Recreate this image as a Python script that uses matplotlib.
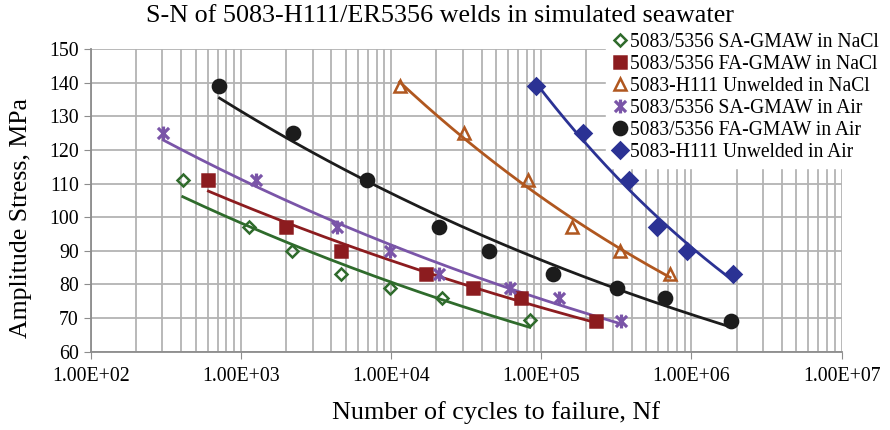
import numpy as np
import matplotlib
matplotlib.use("Agg")
import matplotlib.pyplot as plt
from matplotlib.path import Path

plt.rcParams['font.family'] = ['Liberation Serif', 'DejaVu Serif']

# cycles to failure / stress amplitude (MPa) for each series
sa_nacl_n = [410, 1130, 2180, 4620, 9840, 21900, 83800]
sa_nacl_s = [111, 97, 90, 83, 79, 76, 69.5]

fa_nacl_n = [608, 2010, 4640, 17200, 35100, 72900, 233000]
fa_nacl_s = [111, 97, 90, 83, 79, 76, 69]

unw_nacl_n = [11400, 30500, 82000, 161000, 334000, 720000]
unw_nacl_s = [139, 125, 111, 97, 90, 83]

sa_air_n = [305, 1257, 4390, 9840, 20800, 61700, 131000, 338000]
sa_air_s = [125, 111, 97, 90, 83, 79, 76, 69]

fa_air_n = [720, 2234, 6890, 20900, 44900, 120000, 318000, 667000, 1830000]
fa_air_s = [139, 125, 111, 97, 90, 83, 79, 76, 69]

unw_air_n = [91800, 189000, 385000, 586000, 929000, 1900000]
unw_air_s = [139, 125, 111, 97, 90, 83]

labels = ['5083/5356 SA-GMAW in NaCl', '5083/5356 FA-GMAW in NaCl',
          '5083-H111 Unwelded in NaCl', '5083/5356 SA-GMAW in Air',
          '5083/5356 FA-GMAW in Air', '5083-H111 Unwelded in Air']
xtick_labels = ['1.00E+02', '1.00E+03', '1.00E+04', '1.00E+05', '1.00E+06', '1.00E+07']

# asterisk-like marker: an X with a vertical stroke
star_path = Path([(-1, -1), (1, 1), (-1, 1), (1, -1), (0, -1.25), (0, 1.25)],
                 [Path.MOVETO, Path.LINETO, Path.MOVETO, Path.LINETO, Path.MOVETO, Path.LINETO])

series = [
    (sa_nacl_n, sa_nacl_s, '#2f6b2c', 'D', 'none', 6.5, 1.8),
    (fa_nacl_n, fa_nacl_s, '#8c1c1f', 's', '#8c1c1f', 9, 1.8),
    (unw_nacl_n, unw_nacl_s, '#b0571f', '^', 'none', 9, 1.8),
    (sa_air_n, sa_air_s, '#7a55a8', star_path, 'none', 10, 2.3),
    (fa_air_n, fa_air_s, '#1c1c1c', 'o', '#1c1c1c', 9.5, 1.8),
    (unw_air_n, unw_air_s, '#2b3294', 'D', '#2b3294', 8, 1.8),
]

fig = plt.figure(figsize=(8.9, 4.3), dpi=100)
ax = fig.add_axes([0.1019, 0.182, 0.8438, 0.7038])

for (n, s, col, mk, fc, ms, mew), lab in zip(series, labels):
    n = np.array(n, dtype=float)
    s = np.array(s, dtype=float)
    ax.plot(n, s, linestyle='none', marker=mk, color=col, markerfacecolor=fc,
            markeredgecolor=col, markersize=ms, markeredgewidth=mew, label=lab, zorder=4)
    # power-law trend line, as a spreadsheet would fit it
    b, a = np.polyfit(np.log(n), np.log(s), 1)
    nn = np.geomspace(n.min(), n.max(), 200)
    ax.plot(nn, np.exp(a) * nn ** b, color=col, linewidth=2, zorder=3)

ax.set_xscale('log')
ax.set_xlim(1e2, 1e7)
ax.set_ylim(60, 150)
ax.set_yticks(range(60, 151, 10))
ax.set_xticks([1e2, 1e3, 1e4, 1e5, 1e6, 1e7])
ax.set_xticklabels(xtick_labels)
ax.xaxis.set_minor_locator(matplotlib.ticker.LogLocator(base=10, subs=range(2, 10), numticks=20))
ax.xaxis.set_minor_formatter(matplotlib.ticker.NullFormatter())
ax.tick_params(axis='x', which='minor', length=0)
ax.tick_params(axis='both', which='major', labelsize=14.3, length=5, color='#8c8c8c', direction='out')
ax.tick_params(axis='x', pad=6)
ax.grid(True, which='both', color='#b3b3b3', linewidth=1.3)
ax.set_axisbelow(True)
for side in ['top', 'right']:
    ax.spines[side].set_visible(False)
for side in ['left', 'bottom']:
    ax.spines[side].set_color('#8c8c8c')
    ax.spines[side].set_linewidth(1.3)

fig.text(0.494, 0.963, 'S-N of 5083-H111/ER5356 welds in simulated seawater',
         ha='center', va='center', fontsize=18.8)
fig.text(0.557, 0.04, 'Number of cycles to failure, Nf', ha='center', va='center', fontsize=18.8)
fig.text(0.024, 0.493, 'Amplitude Stress, MPa', ha='center', va='center', fontsize=18.6, rotation=90)

# legend sits over the grid but under the data
leg = ax.legend(loc='upper left', bbox_to_anchor=(0.681, 0.937), bbox_transform=fig.transFigure,
                frameon=True, facecolor='white', edgecolor='white', framealpha=1,
                fontsize=14.1, handlelength=0.8, handletextpad=0.1, labelspacing=0.15,
                borderpad=0.3, borderaxespad=0)
leg.set_zorder(2.5)

fig.savefig('out.png', dpi=100)
